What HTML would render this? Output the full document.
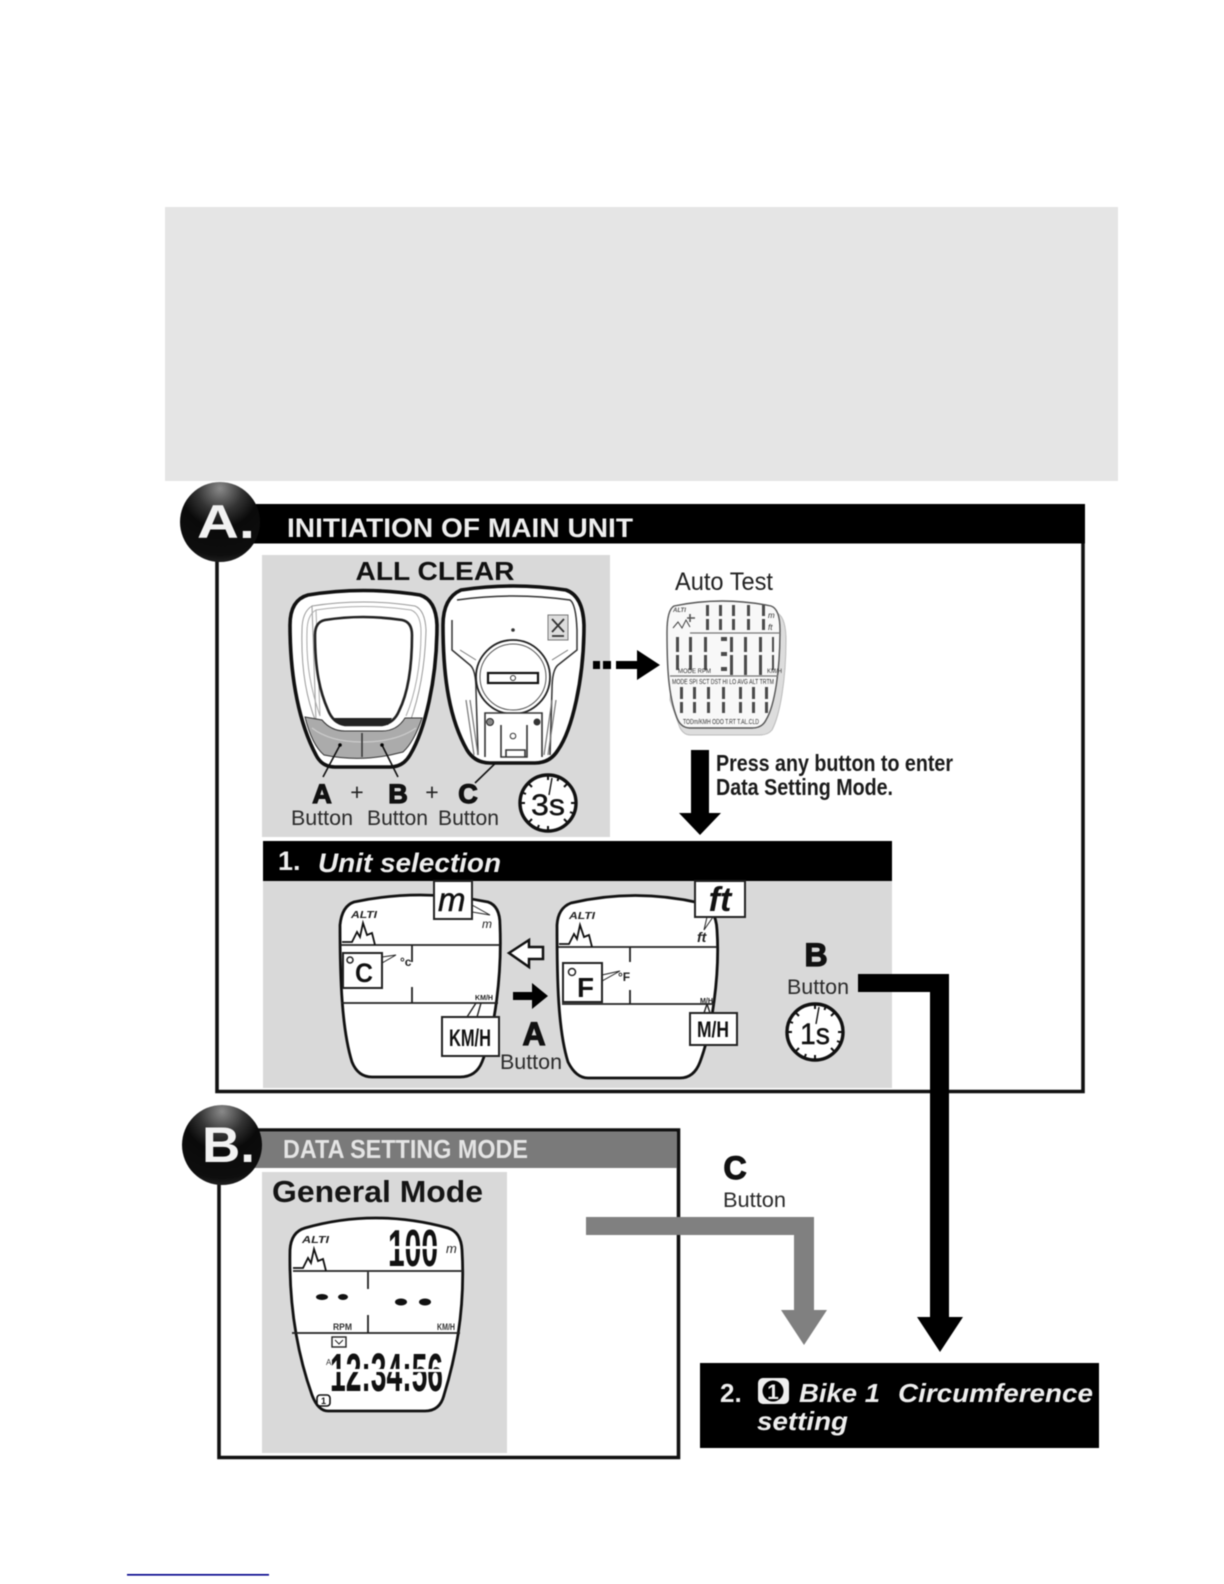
<!DOCTYPE html>
<html><head><meta charset="utf-8"><style>
html,body{margin:0;padding:0;background:#fff;width:1224px;height:1584px;overflow:hidden}
svg{display:block;filter:blur(.5px)}
text{font-family:"Liberation Sans",Arial,sans-serif}
</style></head><body>
<svg xmlns="http://www.w3.org/2000/svg" width="1224" height="1584" viewBox="0 0 1224 1584">
<defs>
<radialGradient id="ball" cx=".5" cy=".08" r=".95"><stop offset="0" stop-color="#8a8a8a"/><stop offset=".3" stop-color="#333"/><stop offset=".52" stop-color="#0a0a0a"/><stop offset=".88" stop-color="#0e0e0e"/><stop offset="1" stop-color="#262626"/></radialGradient>
<g id="ticks" stroke="#111" stroke-width="2"><path d="M0-29V-23M29 0H23M0 29V23M-29 0H-23M20.500-20.500L16-16M20.500 20.500L16 16M-20.500 20.500L-16 16M-20.500-20.500L-16-16M11-26.800L9.500-22M26.800 11L22 9M-11 26.800L-9 22M-26.800-11L-22-9" /></g>
<path id="mtn" d="M0 0H10L15-10L18-5L21-19L25-7L30-9L33 3" fill="none" stroke="#111" stroke-width="1.800"/>
</defs>
<rect width="1224" height="1584" fill="#fff"/>
<rect x="165" y="207" width="953" height="274" fill="#e5e5e5"/>

<!-- Frame A -->
<path d="M217 540V1091.500H1083V540" fill="none" stroke="#111" stroke-width="3.600"/>
<rect x="250" y="504" width="835" height="39.500" fill="#000"/>
<circle cx="220" cy="522" r="40" fill="url(#ball)"/>
<text x="197" y="538" font-size="47" font-weight="700" fill="#f2f2f2" textLength="58" lengthAdjust="spacingAndGlyphs">A.</text>
<text x="287" y="537" font-size="27" font-weight="700" fill="#eee" textLength="346" lengthAdjust="spacingAndGlyphs">INITIATION OF MAIN UNIT</text>

<!-- All clear panel -->
<rect x="262" y="555" width="348" height="282" fill="#d9d9d9"/>
<text x="435" y="580" text-anchor="middle" font-size="26" font-weight="700" fill="#111" textLength="159" lengthAdjust="spacingAndGlyphs">ALL CLEAR</text>
<path d="M308 595Q363 586 420 595Q436 600 437 625C437 680 425 730 410 755Q403 767 390 767L335 767Q322 767 316 755C300 725 290 680 290 625Q290 600 308 595Z" fill="#fff" stroke="#111" stroke-width="3.600"/>
<path d="M312 606Q363 598 415 606Q425 610 426 630C425 670 418 700 410 722M316 722C305 695 301 665 302 630Q302 612 312 606Z" fill="none" stroke="#999" stroke-width="1"/>
<path d="M316 610Q363 603 411 610Q421 614 421 632C421 665 415 695 406 716M320 716C311 690 306 665 307 632Q307 615 316 610Z" fill="none" stroke="#aaa" stroke-width="1"/>
<path d="M305 717L322 720Q331 731 345 731H382Q397 731 405 718L422 718Q414 742 403 752Q363 763 324 755Q312 745 305 717Z" fill="#ababab" stroke="#333" stroke-width="1"/>
<path d="M312 728Q330 742 362 742Q396 742 416 728" fill="none" stroke="#ccc" stroke-width="1.200"/>
<path d="M362 733V757" stroke="#333" stroke-width="1.500"/>
<path d="M325 620Q363 614 402 620Q412 622 412 635C412 670 407 695 399 711Q394 723 382 725H345Q333 723 328 710C320 692 315 670 315 635Q315 622 325 620Z" fill="#fff" stroke="#222" stroke-width="2.600"/>
<path d="M334 718H392L388 725H340Z" fill="#222"/>
<path d="M323 777L340 745M398 777L382 745M475 783L538 722" stroke="#111" stroke-width="1.600"/>
<circle cx="340" cy="745" r="1.800"/><circle cx="382" cy="745" r="1.800"/><circle cx="538" cy="722" r="3"/>

<path d="M461 590Q513 582 566 590Q583 596 584 625C584 680 572 730 558 750Q550 763 535 763L490 763Q475 763 467 750C450 720 443 680 443 625Q443 598 461 590Z" fill="#fff" stroke="#111" stroke-width="3.600"/>
<path d="M457 600Q513 592 570 600Q576 604 577 630L577 650L558 665Q552 670 552 690L550 755M452 620L452 650L470 665Q476 670 476 690L478 755" fill="none" stroke="#333" stroke-width="1.500"/>
<path d="M460 650L476 660M568 650L552 660" stroke="#777" stroke-width="1"/>
<path d="M466 700L474 755M556 700L548 755M470 700L478 755M552 700L544 755" stroke="#777" stroke-width="1.200"/>
<circle cx="513" cy="630" r="1.800" fill="#333"/>
<circle cx="513" cy="677" r="37" fill="#fff" stroke="#222" stroke-width="1.800"/>
<circle cx="513" cy="677" r="33" fill="none" stroke="#555" stroke-width="1"/>
<rect x="488" y="673" width="50" height="10" fill="#fff" stroke="#111" stroke-width="2.200"/>
<circle cx="513" cy="678" r="2.500" fill="#fff" stroke="#333"/>
<path d="M485 757V713H542V757M501 725V757H527V725M506 750H525V757H506Z" fill="#fff" stroke="#333" stroke-width="1.600"/>
<circle cx="490" cy="722" r="3.500" fill="#888" stroke="#222"/><circle cx="537" cy="722" r="3.500" fill="#333"/><circle cx="513" cy="736" r="2.800" fill="#fff" stroke="#333"/>
<rect x="548" y="615" width="20" height="25" fill="#ddd" stroke="#777"/>
<path d="M552 619L564 632M564 619L552 632M552 636H564" stroke="#333" stroke-width="1.800"/>

<g fill="#111" stroke="#111" stroke-width="1.200" font-size="27" font-weight="700" text-anchor="middle">
<text x="322" y="803">A</text><text x="398" y="803">B</text><text x="468" y="803">C</text></g>
<g font-size="23" fill="#222" text-anchor="middle"><text x="357" y="800">+</text><text x="432" y="800">+</text></g>
<g font-size="21" fill="#2a2a2a"><text x="291" y="825" textLength="62" lengthAdjust="spacingAndGlyphs">Button</text><text x="367" y="825" textLength="61" lengthAdjust="spacingAndGlyphs">Button</text><text x="438" y="825" textLength="61" lengthAdjust="spacingAndGlyphs">Button</text></g>
<g transform="translate(548 803)"><circle r="28" fill="#fff" stroke="#111" stroke-width="3.400"/><use href="#ticks"/><path d="M4-25L1-8" stroke="#111" stroke-width="1.400"/><text x="0" y="12" text-anchor="middle" font-size="30" fill="#111" stroke="#111" stroke-width=".4" textLength="34" lengthAdjust="spacingAndGlyphs">3s</text></g>

<!-- dashed arrow -->
<path d="M593 661H600V669H593ZM603 661H611V669H603ZM616 661H637V650L660 665L637 680V669H616Z" fill="#000"/>

<!-- Auto test -->
<text x="675" y="590" font-size="25" fill="#222" textLength="98" lengthAdjust="spacingAndGlyphs">Auto Test</text>
<path d="M676 612Q725 602 775 612Q786 615 786 640C786 680 780 715 772 730Q768 735 760 735H690Q684 735 680 728L670 700Z" fill="#ddd" stroke="#bbb"/>
<path d="M674 606Q722 596 771 606Q780 609 780 630C780 670 775 705 766 720Q762 728 752 728H690Q681 728 677 718C668 695 667 665 667 632Q667 610 674 606Z" fill="#f8f8f8" stroke="#555" stroke-width="1.400"/>
<path d="M690 633H780M670 676H778" stroke="#777" stroke-width="1.200"/>
<g fill="#4a4a4a">
<rect x="706" y="605" width="3" height="11"/><rect x="706" y="619" width="3" height="11"/><rect x="719" y="605" width="3" height="11"/><rect x="719" y="619" width="3" height="11"/><rect x="732" y="605" width="3" height="11"/><rect x="732" y="619" width="3" height="11"/><rect x="747" y="605" width="3" height="11"/><rect x="747" y="619" width="3" height="11"/><rect x="762" y="605" width="3" height="11"/><rect x="762" y="619" width="3" height="11"/>
<rect x="676" y="637" width="3" height="15"/><rect x="676" y="655" width="3" height="15"/><rect x="689" y="637" width="3" height="15"/><rect x="689" y="655" width="3" height="15"/><rect x="704" y="637" width="3" height="15"/><rect x="704" y="655" width="3" height="15"/><rect x="730" y="637" width="3" height="15"/><rect x="730" y="655" width="3" height="20"/><rect x="744" y="637" width="3" height="15"/><rect x="744" y="655" width="3" height="20"/><rect x="759" y="637" width="3" height="15"/><rect x="759" y="655" width="3" height="20"/><rect x="772" y="637" width="2" height="15"/><rect x="772" y="655" width="2" height="15"/>
<rect x="721" y="637" width="6" height="4"/><rect x="721" y="652" width="6" height="4"/><rect x="721" y="667" width="6" height="4"/>
<rect x="680" y="687" width="3" height="12"/><rect x="680" y="702" width="3" height="11"/><rect x="693" y="687" width="3" height="12"/><rect x="693" y="702" width="3" height="11"/><rect x="707" y="687" width="3" height="12"/><rect x="707" y="702" width="3" height="11"/><rect x="722" y="687" width="3" height="12"/><rect x="722" y="702" width="3" height="11"/><rect x="739" y="687" width="3" height="12"/><rect x="739" y="702" width="3" height="11"/><rect x="752" y="687" width="3" height="12"/><rect x="752" y="702" width="3" height="11"/><rect x="765" y="687" width="3" height="12"/><rect x="765" y="702" width="3" height="11"/>
</g>
<text x="672" y="684" font-size="7" fill="#333" textLength="102" lengthAdjust="spacingAndGlyphs">MODE SPI SCT DST HI LO AVG ALT TRTM</text>
<text x="683" y="724" font-size="7" fill="#333" textLength="76" lengthAdjust="spacingAndGlyphs">TODm/KMH ODO T.RT T.AL.CLD</text>
<text x="678" y="673" font-size="6" fill="#333">MODE RPM</text><text x="767" y="673" font-size="6" fill="#333">KM/H</text>
<text x="673" y="612" font-size="6" font-style="italic" font-weight="700" fill="#555">ALTI</text>
<text x="768" y="618" font-size="8" font-style="italic" fill="#333">m</text><text x="768" y="630" font-size="8" font-style="italic" fill="#333">ft</text>
<path d="M673 628L678 622L682 628L686 620L690 627" fill="none" stroke="#444"/><path d="M690 618H694M690 614V622M687 618H695" stroke="#555" stroke-width="1.600"/>

<!-- down arrow -->
<path d="M691 750H709V813H721L700 835L679 813H691Z" fill="#000"/>
<text x="716" y="771" font-size="23" font-weight="700" fill="#1a1a1a" textLength="237" lengthAdjust="spacingAndGlyphs">Press any button to enter</text>
<text x="716" y="795" font-size="23" font-weight="700" fill="#1a1a1a" textLength="177" lengthAdjust="spacingAndGlyphs">Data Setting Mode.</text>

<!-- Unit selection -->
<rect x="263" y="881" width="629" height="207" fill="#d9d9d9"/>
<rect x="263" y="841" width="629" height="40" fill="#000"/>
<text x="278" y="870" font-size="27" font-weight="700" fill="#eee">1.</text>
<text x="318" y="872" font-size="27" font-style="italic" font-weight="700" fill="#eee" textLength="183" lengthAdjust="spacingAndGlyphs">Unit selection</text>

<path d="M354 902Q420 888 488 902Q500 906 500 925C502 975 495 1030 482 1062Q476 1077 460 1077H372Q358 1077 352 1062C342 1030 340 980 340 925Q342 906 354 902Z" fill="#fff" stroke="#111" stroke-width="2.800"/>
<path d="M340 945H500M341 1003H498M412 945V962M412 987V1003" stroke="#222" stroke-width="1.800"/>
<use href="#mtn" x="342" y="942"/>
<text x="351" y="918" font-size="10" font-style="italic" font-weight="700" fill="#222" textLength="26" lengthAdjust="spacingAndGlyphs">ALTI</text>
<path d="M472 905L490 915L472 912Z" fill="#fff" stroke="#222"/>
<text x="482" y="928" font-size="12" font-style="italic" fill="#222">m</text>
<rect x="434" y="881" width="38" height="38" fill="#fff" stroke="#222" stroke-width="2"/>
<text x="438" y="911" font-size="33" font-style="italic" fill="#111" stroke="#111" stroke-width=".5">m</text>
<path d="M382 957L396 955L382 963Z" fill="#fff" stroke="#222"/>
<rect x="343" y="953" width="39" height="35" fill="#fff" stroke="#222" stroke-width="2"/>
<circle cx="350" cy="960" r="3" fill="none" stroke="#222" stroke-width="1.500"/>
<text x="355" y="982" font-size="27" font-weight="700" fill="#111" textLength="18" lengthAdjust="spacingAndGlyphs">C</text>
<text x="400" y="966" font-size="12" font-weight="700" fill="#222">°c</text>
<text x="475" y="1000" font-size="7" font-weight="700" fill="#222" textLength="18" lengthAdjust="spacingAndGlyphs">KM/H</text>
<path d="M467 1017L476 1003M477 1017L481 1003" stroke="#222" stroke-width="1.400"/>
<rect x="442" y="1017" width="57" height="39" fill="#fff" stroke="#222" stroke-width="2"/>
<text x="449" y="1046" font-size="24" font-weight="700" fill="#111" textLength="42" lengthAdjust="spacingAndGlyphs">KM/H</text>

<path d="M509 953L529 940V947H543V959H529V967Z" fill="#fff" stroke="#111" stroke-width="2.500"/>
<path d="M513 992H532V983L548 996L532 1009V1000H513Z" fill="#000"/>
<text x="534" y="1045" text-anchor="middle" font-size="32" font-weight="700" fill="#111" stroke="#111" stroke-width="1.200">A</text>
<text x="500" y="1069" font-size="21" fill="#2a2a2a" textLength="62" lengthAdjust="spacingAndGlyphs">Button</text>

<path d="M571 903Q635 888 700 903Q716 908 717 930C720 975 712 1030 700 1062Q694 1078 680 1078H588Q576 1078 568 1062C558 1030 557 980 557 925Q558 908 571 903Z" fill="#fff" stroke="#111" stroke-width="2.800"/>
<path d="M558 947H717M562 1004H714M630 947V962M630 990V1004" stroke="#222" stroke-width="1.800"/>
<use href="#mtn" x="559" y="944"/>
<text x="569" y="919" font-size="10" font-style="italic" font-weight="700" fill="#222" textLength="26" lengthAdjust="spacingAndGlyphs">ALTI</text>
<path d="M707 917L704 930L713 917Z" fill="#fff" stroke="#222"/>
<rect x="695" y="881" width="50" height="36" fill="#fff" stroke="#222" stroke-width="2"/>
<text x="720" y="911" text-anchor="middle" font-size="34" font-style="italic" font-weight="700" fill="#111">ft</text>
<text x="697" y="942" font-size="14" font-style="italic" font-weight="700" fill="#222">ft</text>
<path d="M602 975L620 971L602 981Z" fill="#fff" stroke="#222"/>
<rect x="563" y="963" width="39" height="39" fill="#fff" stroke="#222" stroke-width="2"/>
<circle cx="572" cy="972" r="3.500" fill="none" stroke="#222" stroke-width="1.500"/>
<text x="577" y="997" font-size="28" font-weight="700" fill="#111" textLength="17" lengthAdjust="spacingAndGlyphs">F</text>
<text x="618" y="981" font-size="12" font-weight="700" fill="#222">°F</text>
<text x="700" y="1003" font-size="7" font-weight="700" fill="#222" textLength="13" lengthAdjust="spacingAndGlyphs">M/H</text>
<path d="M704 1013L707 1004M710 1013L707 1004" stroke="#222" stroke-width="1.400"/>
<rect x="690" y="1013" width="47" height="32" fill="#fff" stroke="#222" stroke-width="2"/>
<text x="697" y="1037" font-size="22" font-weight="700" fill="#111" textLength="32" lengthAdjust="spacingAndGlyphs">M/H</text>

<text x="816" y="966" text-anchor="middle" font-size="32" font-weight="700" fill="#111" stroke="#111" stroke-width="1.200">B</text>
<text x="787" y="994" font-size="21" fill="#2a2a2a" textLength="62" lengthAdjust="spacingAndGlyphs">Button</text>
<g transform="translate(815 1032)"><circle r="28" fill="#fff" stroke="#111" stroke-width="3.400"/><use href="#ticks"/><path d="M4-25L1-8" stroke="#111" stroke-width="1.400"/><text x="0" y="12" text-anchor="middle" font-size="30" fill="#111" stroke="#111" stroke-width=".4" textLength="30" lengthAdjust="spacingAndGlyphs">1s</text></g>

<!-- Frame B -->
<path d="M219 1170V1457.500H678.500V1130H250" fill="none" stroke="#111" stroke-width="3.600"/>
<rect x="250" y="1132" width="427" height="36" fill="#7a7a7a"/>
<circle cx="222" cy="1145" r="40" fill="url(#ball)"/>
<text x="202" y="1162" font-size="50" font-weight="700" fill="#f2f2f2" textLength="53" lengthAdjust="spacingAndGlyphs">B.</text>
<text x="283" y="1158" font-size="26" font-weight="700" fill="#e4e4e4" textLength="245" lengthAdjust="spacingAndGlyphs">DATA SETTING MODE</text>
<rect x="262" y="1172" width="245" height="281" fill="#d9d9d9"/>
<text x="272" y="1202" font-size="31" font-weight="700" fill="#151515" textLength="211" lengthAdjust="spacingAndGlyphs">General Mode</text>

<path d="M305 1228Q375 1208 448 1228Q461 1232 462 1250C465 1300 458 1350 444 1395Q440 1411 425 1411H328Q318 1411 312 1395C296 1350 289 1300 290 1250Q291 1232 305 1228Z" fill="#fff" stroke="#111" stroke-width="2.800"/>
<path d="M293 1271H463M292 1333H460M368 1272V1289M368 1315V1333" stroke="#222" stroke-width="1.800"/>
<use href="#mtn" x="293" y="1268"/>
<text x="302" y="1243" font-size="10" font-style="italic" font-weight="700" fill="#222" textLength="27" lengthAdjust="spacingAndGlyphs">ALTI</text>
<text x="388" y="1266" font-size="52" font-weight="700" fill="#111" textLength="50" lengthAdjust="spacingAndGlyphs">100</text>
<rect x="385" y="1246" width="56" height="3" fill="#fff"/>
<text x="446" y="1253" font-size="13" font-style="italic" fill="#222">m</text>
<ellipse cx="322" cy="1297" rx="6" ry="3" fill="#111"/><ellipse cx="343" cy="1297" rx="5" ry="3" fill="#111"/><ellipse cx="401" cy="1302" rx="6" ry="3.500" fill="#111"/><ellipse cx="425" cy="1302" rx="6" ry="3.500" fill="#111"/>
<text x="333" y="1330" font-size="9" font-weight="700" fill="#333" textLength="19" lengthAdjust="spacingAndGlyphs">RPM</text>
<text x="437" y="1330" font-size="9" font-weight="700" fill="#333" textLength="18" lengthAdjust="spacingAndGlyphs">KM/H</text>
<rect x="332" y="1337" width="14" height="10" fill="#fff" stroke="#222" stroke-width="1.400"/><path d="M335 1340L339 1344L343 1340" fill="none" stroke="#222"/>
<text x="326" y="1365" font-size="8" fill="#333">A</text>
<text x="330" y="1391" font-size="54" font-weight="700" fill="#111" textLength="113" lengthAdjust="spacingAndGlyphs">12:34:56</text>
<rect x="329" y="1369" width="116" height="3" fill="#fff"/>
<rect x="317" y="1395" width="13" height="11" rx="3" fill="#fff" stroke="#111" stroke-width="1.600"/><text x="323.500" y="1404" text-anchor="middle" font-size="9" font-weight="700" fill="#111">1</text>

<!-- Connectors -->
<path d="M586 1217H814V1310H827L804 1345L781 1310H794V1235H586Z" fill="#808080"/>
<text x="735" y="1179" text-anchor="middle" font-size="32" font-weight="700" fill="#111" stroke="#111" stroke-width="1.200">C</text>
<text x="723" y="1207" font-size="21" fill="#2a2a2a" textLength="63" lengthAdjust="spacingAndGlyphs">Button</text>
<path d="M858 974H949V1317H963L940 1352L917 1317H930V992H858Z" fill="#000"/>

<rect x="700" y="1363" width="399" height="85" fill="#000"/>
<text x="720" y="1402" font-size="26" font-weight="700" fill="#eee">2.</text>
<rect x="758" y="1378" width="31" height="26" rx="5" fill="#eee"/>
<circle cx="773" cy="1391" r="10.500" fill="#000"/><text x="773" y="1399" text-anchor="middle" font-size="21" font-weight="700" fill="#eee">1</text>
<text x="799" y="1402" font-size="26" font-style="italic" font-weight="700" fill="#eee" textLength="81" lengthAdjust="spacingAndGlyphs">Bike 1</text>
<text x="898" y="1402" font-size="26" font-style="italic" font-weight="700" fill="#eee" textLength="195" lengthAdjust="spacingAndGlyphs">Circumference</text>
<text x="757" y="1430" font-size="26" font-style="italic" font-weight="700" fill="#eee" textLength="91" lengthAdjust="spacingAndGlyphs">setting</text>

<rect x="127" y="1574" width="142" height="1.600" fill="#00008b"/>
</svg>
</body></html>
